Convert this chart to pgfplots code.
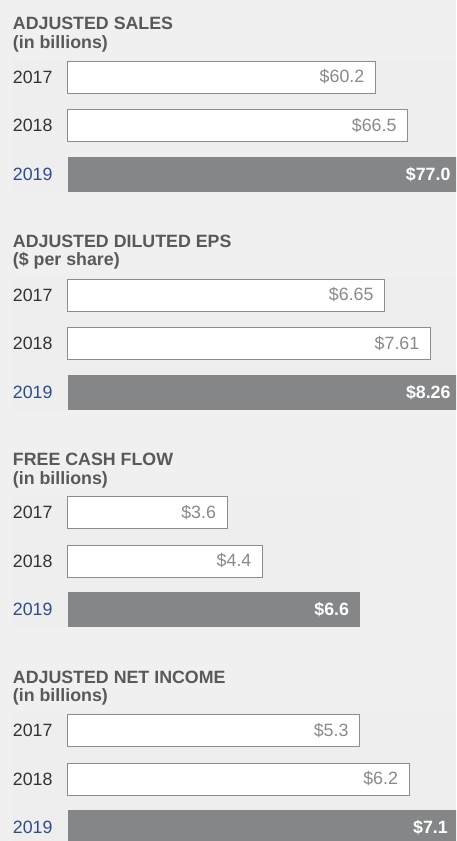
\documentclass[border=0pt]{standalone}
\usepackage{pgfplots}
\pgfplotsset{compat=1.18}
\usepackage{fontspec}
\setmainfont{Liberation Sans}
\definecolor{bg}{HTML}{F0F0F0}
\definecolor{inner}{HTML}{EEEEEE}
\definecolor{titlec}{HTML}{595959}
\definecolor{yearc}{HTML}{333333}
\definecolor{yearblue}{HTML}{2E4C8C}
\definecolor{edgec}{HTML}{8C8C8C}
\definecolor{barc}{HTML}{858688}
\definecolor{valc}{HTML}{8A8A8A}
\newcommand{\fs}{\fontsize{17.8}{20}\selectfont}
\pgfplotsset{
 panel/.style={
  xbar, scale only axis, clip=false,
  xmin=0, ymin=-0.5, ymax=2.5, y dir=reverse,
  anchor=south west,
  axis line style={draw=none}, major tick length=0pt,
  xtick=\empty, ytick={0,1,2},
  yticklabels={2017,2018,{\color{yearblue}2019}},
  yticklabel style={anchor=west, inner sep=0pt, xshift=-55.3pt, font=\fs, text=yearc},
  bar shift=0pt,
  point meta=x,
  /pgf/number format/assume math mode=true,
 },
 whitebar/.style={draw=edgec, line width=1pt, fill=white, bar width=32pt,
   every node near coord/.append style={anchor=east, xshift=-7.5pt, font=\fs, text=valc}},
 graybar/.style={draw=none, fill=barc, bar width=35pt,
   every node near coord/.append style={anchor=east, xshift=-7.5pt, font=\fs\bfseries, text=white}},
}
\begin{document}
\begin{tikzpicture}
\useasboundingbox (0,0) rectangle (456pt,841pt);
\clip (0,0) rectangle (456pt,841pt);
\fill[bg] (0,0) rectangle (456pt,841pt);
% inner panels
\fill[inner] (12pt,781pt) rectangle (456pt,649pt);
\fill[inner] (12pt,564pt) rectangle (456pt,431pt);
\fill[inner] (12pt,346pt) rectangle (360pt,214pt);
\fill[inner] (12pt,129pt) rectangle (456pt,0pt);
% titles
\node[anchor=base west, inner sep=0pt, font=\fs\bfseries, text=titlec] at (12.7pt,811pt) {ADJUSTED SALES};
\node[anchor=base west, inner sep=0pt, font=\fs\bfseries, text=titlec] at (12.7pt,792.5pt) {(in billions)};
\node[anchor=base west, inner sep=0pt, font=\fs\bfseries, text=titlec] at (12.7pt,593.3pt) {ADJUSTED DILUTED EPS};
\node[anchor=base west, inner sep=0pt, font=\fs\bfseries, text=titlec] at (12.7pt,575.5pt) {(\$ per share)};
\node[anchor=base west, inner sep=0pt, font=\fs\bfseries, text=titlec] at (12.7pt,375.3pt) {FREE CASH FLOW};
\node[anchor=base west, inner sep=0pt, font=\fs\bfseries, text=titlec] at (12.7pt,356.7pt) {(in billions)};
\node[anchor=base west, inner sep=0pt, font=\fs\bfseries, text=titlec] at (12.7pt,157pt) {ADJUSTED NET INCOME};
\node[anchor=base west, inner sep=0pt, font=\fs\bfseries, text=titlec] at (12.7pt,139.3pt) {(in billions)};
% panel 1
\begin{axis}[panel, at={(68pt,642.1pt)}, width=408.8pt, height=146.25pt, xmax=80]
\addplot[whitebar, nodes near coords={\$\pgfmathprintnumber[fixed,fixed zerofill,precision=1]{\pgfplotspointmeta}}] coordinates {(60.2,0) (66.5,1)};
\addplot[graybar, nodes near coords={\$\pgfmathprintnumber[fixed,fixed zerofill,precision=1]{\pgfplotspointmeta}}] coordinates {(77.0,2)};
\end{axis}
% panel 2
\begin{axis}[panel, at={(68pt,424.1pt)}, width=428.85pt, height=146.25pt, xmax=9]
\addplot[whitebar, nodes near coords={\$\pgfmathprintnumber[fixed,fixed zerofill,precision=2]{\pgfplotspointmeta}}] coordinates {(6.65,0) (7.61,1)};
\addplot[graybar, nodes near coords={\$\pgfmathprintnumber[fixed,fixed zerofill,precision=2]{\pgfplotspointmeta}}] coordinates {(8.26,2)};
\end{axis}
% panel 3
\begin{axis}[panel, at={(68pt,207.25pt)}, width=309.75pt, height=145.5pt, xmax=7]
\addplot[whitebar, nodes near coords={\$\pgfmathprintnumber[fixed,fixed zerofill,precision=1]{\pgfplotspointmeta}}] coordinates {(3.6,0) (4.4,1)};
\addplot[graybar, nodes near coords={\$\pgfmathprintnumber[fixed,fixed zerofill,precision=1]{\pgfplotspointmeta}}] coordinates {(6.6,2)};
\end{axis}
% panel 4
\begin{axis}[panel, at={(68pt,-10.75pt)}, width=440.4pt, height=145.5pt, xmax=8]
\addplot[whitebar, nodes near coords={\$\pgfmathprintnumber[fixed,fixed zerofill,precision=1]{\pgfplotspointmeta}}] coordinates {(5.3,0) (6.2,1)};
\addplot[graybar, nodes near coords={\$\pgfmathprintnumber[fixed,fixed zerofill,precision=1]{\pgfplotspointmeta}}] coordinates {(7.1,2)};
\end{axis}
\end{tikzpicture}
\end{document}
